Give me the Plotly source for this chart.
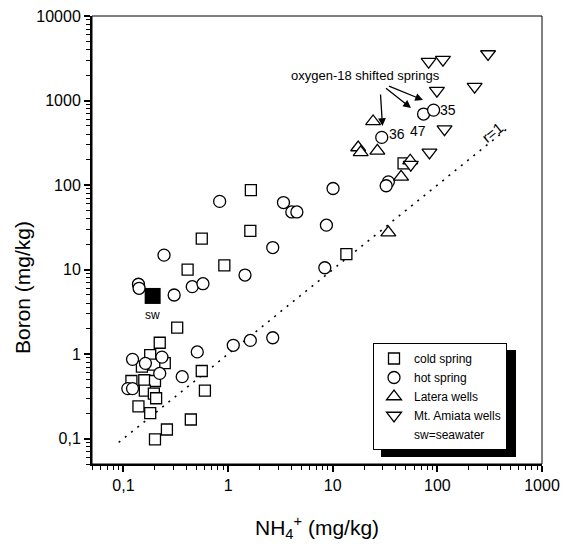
import math
import plotly.graph_objects as go

# data (NH4+ vs boron, mg/kg)
cold_x = [1.65, 0.56, 1.63, 0.41, 0.92, 0.326, 0.222, 0.18, 0.15, 0.248, 0.197, 0.158, 0.2, 0.119,
          0.16, 0.195, 0.205, 0.139, 0.18, 0.56, 0.6, 0.44, 0.26, 0.2, 13.5, 47.5]
cold_y = [87, 23.2, 28.7, 10, 11.2, 2.05, 1.36, 0.97, 0.71, 0.78, 0.75, 0.49, 0.48, 0.48,
          0.37, 0.34, 0.30, 0.24, 0.2, 0.63, 0.37, 0.168, 0.128, 0.098, 15.2, 180]

hot_x = [0.83, 3.38, 4.06, 4.54, 0.244, 2.67, 1.45, 0.139, 0.141, 0.305, 0.454, 0.575, 0.507, 1.12,
         1.63, 2.67, 0.364, 0.122, 0.162, 0.233, 0.222, 0.11, 0.122, 10.07, 8.7, 8.4, 34, 32.4,
         29.4, 73.8, 92]
hot_y = [64, 62, 48, 48, 14.8, 18.2, 8.6, 6.7, 6.0, 5.0, 6.27, 6.8, 1.06, 1.27,
         1.45, 1.56, 0.54, 0.865, 0.776, 0.92, 0.59, 0.39, 0.39, 91, 33.5, 10.5, 109, 98,
         366, 692, 770]

latera_x = [34, 24.3, 17.5, 18.5, 26.7, 45, 55]
latera_y = [27.4, 565, 278, 243, 254, 125, 194]

amiata_x = [82.5, 113, 305, 227, 99, 117, 84, 55.7]
amiata_y = [2885, 3042, 3550, 1456, 1307, 459, 243, 174]

sw_x = [0.19]
sw_y = [4.87]

r1_x = [0.09, 500]  # r=1 line, y = x

# labelled springs
spring_labels = ["36", "47", "35"]
spring_lab_x = [29.4, 73.8, 92]
spring_lab_y = [366, 692, 770]

FONT = "Arial, Liberation Sans, sans-serif"
x_ticks = [0.1, 1, 10, 100, 1000]
x_text = ["0,1", "1", "10", "100", "1000"]
y_ticks = [0.1, 1, 10, 100, 1000, 10000]
y_text = ["0,1", "1", "10", "100", "1000", "10000"]

# plot box in page pixels: x 92..542, y 16..464
PX0, PX1, PY0, PY1 = 92, 542, 16, 464
W, H = 563, 544


def px(x):
    return (x - PX0) / (PX1 - PX0)


def py(y):
    return (PY1 - y) / (PY1 - PY0)


def minors(lo, hi):
    out = []
    d = lo
    while d < hi:
        out += [d * k for k in range(2, 10)]
        d *= 10
    return out


line = dict(color="black", width=1.3)
fig = go.Figure()
fig.add_trace(go.Scatter(x=r1_x, y=r1_x, mode="lines", showlegend=False,
                         line=dict(color="black", width=1.6, dash="2px,6px")))
fig.add_trace(go.Scatter(x=cold_x, y=cold_y, mode="markers", name="cold spring",
                         marker=dict(symbol="square", size=11, color="white", line=line)))
fig.add_trace(go.Scatter(x=hot_x, y=hot_y, mode="markers", name="hot spring",
                         marker=dict(symbol="circle", size=12, color="white", line=line)))
fig.add_trace(go.Scatter(x=latera_x, y=latera_y, mode="markers", name="Latera wells",
                         marker=dict(symbol="triangle-up", size=13, color="white", line=line)))
fig.add_trace(go.Scatter(x=amiata_x, y=amiata_y, mode="markers", name="Mt. Amiata wells",
                         marker=dict(symbol="triangle-down", size=13, color="white", line=line)))
fig.add_trace(go.Scatter(x=sw_x, y=sw_y, mode="markers", showlegend=False,
                         marker=dict(symbol="square", size=16, color="black")))
fig.add_trace(go.Scatter(x=[None], y=[None], mode="markers", name="sw=seawater",
                         marker=dict(color="rgba(0,0,0,0)", line=dict(width=0))))

axis = dict(type="log", showgrid=False, zeroline=False, showline=True, linecolor="black",
            linewidth=2, ticks="outside", ticklen=6, tickwidth=1.5, tickcolor="black",
            tickfont=dict(family=FONT, size=16, color="black"), tickmode="array",
            automargin=False, ticklabeloverflow="allow")
fig.update_xaxes(**axis, range=[-1.301, 3], tickvals=x_ticks, ticktext=x_text,
                 minor=dict(ticks="outside", ticklen=4, tickwidth=1, tickcolor="black",
                            tickmode="array", tickvals=minors(0.01, 1000), showgrid=False))
fig.update_yaxes(**axis, range=[-1.301, 4], tickvals=y_ticks, ticktext=y_text,
                 minor=dict(ticks="outside", ticklen=4, tickwidth=1, tickcolor="black",
                            tickmode="array", tickvals=minors(0.01, 10000), showgrid=False))


def label(x, y, text, size, angle=0):
    return dict(x=px(x), y=py(y), xref="paper", yref="paper", showarrow=False,
                xanchor="center", yanchor="middle", text=text, textangle=angle,
                font=dict(size=size))


annos = [
    label(317, 527, "NH<sub>4</sub><sup>+</sup> (mg/kg)", 21),
    label(22, 288, "Boron (mg/kg)", 21, -90),
    label(492, 132, "r=1", 15, -39),
    label(365, 76, "oxygen-18 shifted springs", 13),
    dict(x=math.log10(sw_x[0]), y=math.log10(sw_y[0]), xref="x", yref="y", showarrow=False,
         yshift=-19, text="sw", font=dict(size=12)),
]
# label offsets (px) for the numbered springs
lab_shift = [(15, 3), (-6, -17), (14, 0)]
for t, lx, ly, (dx, dy) in zip(spring_labels, spring_lab_x, spring_lab_y, lab_shift):
    annos.append(dict(x=math.log10(lx), y=math.log10(ly), xref="x", yref="y", showarrow=False,
                      text=t, xshift=dx, yshift=dy, font=dict(size=14)))

# arrows from the caption to the springs (page pixel positions)
arrow_tails = [(380, 86), (383, 86), (386, 85)]
arrow_heads = [(382.5, 126), (411, 108), (423, 100)]
for (tx, ty), (hx, hy) in zip(arrow_tails, arrow_heads):
    annos.append(dict(x=px(hx), y=py(hy), xref="paper", yref="paper",
                      ax=tx - hx, ay=ty - hy, showarrow=True, arrowhead=2, arrowsize=1.2,
                      arrowwidth=1.3, arrowcolor="black", text=" "))

fig.update_layout(
    width=W, height=H, plot_bgcolor="white", paper_bgcolor="white",
    margin=dict(l=PX0, r=W - PX1, t=PY0, b=H - PY1),
    font=dict(family=FONT, color="black"),
    annotations=annos,
    legend=dict(x=px(373), y=py(343), xanchor="left", yanchor="top", bgcolor="white",
                bordercolor="black", borderwidth=1, tracegroupgap=0,
                font=dict(size=12, family=FONT)),
    shapes=[
        dict(type="rect", xref="paper", yref="paper", x0=0, x1=1, y0=0, y1=1,
             line=dict(color="black", width=1)),
        dict(type="rect", xref="paper", yref="paper", x0=px(381), x1=px(516),
             y0=py(457), y1=py(350), fillcolor="black", line=dict(width=0), layer="above"),
    ],
)

# drop the default 8px page margin so the figure sits at the window origin
fig.write_html("out.html", config={"displayModeBar": False},
               post_script="document.body.style.margin='0';")
